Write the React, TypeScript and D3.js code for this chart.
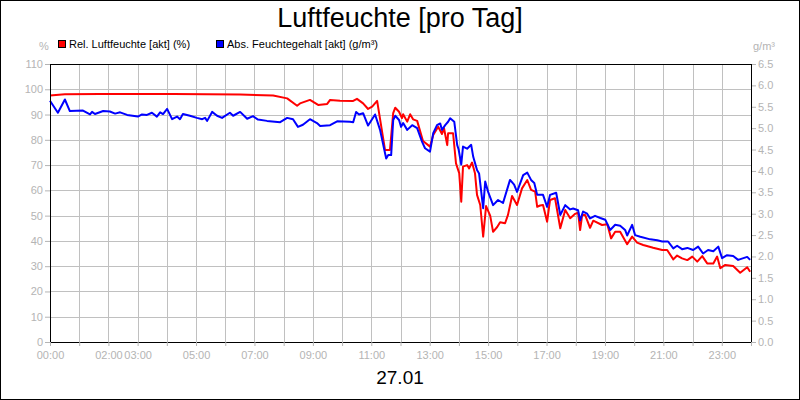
import * as d3 from "d3";
import React from "react";

// hours since midnight (27.01) and relative humidity in %
const redHours = [0, 0.51, 1.71, 4.21, 6.51, 7.64, 8.12, 8.46, 8.56, 8.9, 9.18, 9.49, 9.59, 9.93, 10.38, 10.51, 10.72, 10.89, 11.03, 11.2, 11.47, 11.64, 11.75, 11.82, 11.95, 12.05, 12.09, 12.23, 12.33, 12.43, 12.57, 12.77, 13.01, 13.12, 13.29, 13.42, 13.49, 13.6, 13.63,
    13.8, 13.9, 14.01, 14.08, 14.14, 14.28, 14.35, 14.45, 14.55, 14.62, 14.73, 14.83, 14.93, 15.07, 15.17, 15.31, 15.41, 15.58, 15.68, 15.82, 15.99, 16.16, 16.34, 16.47, 16.61, 16.68, 16.78, 16.88, 17.02, 17.12, 17.29, 17.47, 17.64, 17.81, 17.98, 18.08, 18.15,
    18.22, 18.32, 18.49, 18.6, 18.9, 19.08, 19.21, 19.35, 19.52, 19.76, 19.93, 20.1, 20.31, 20.65, 20.96, 21.13, 21.34, 21.47, 21.64, 21.82, 21.99, 22.16, 22.33, 22.5, 22.71, 22.84, 22.95, 23.12, 23.39, 23.63, 23.87, 23.97];
const redValues = [97.5, 98.0, 98.1, 98.1, 97.9, 97.5, 96.4, 93.5, 94.4, 95.8, 93.8, 94.2, 95.8, 95.5, 95.4, 96.2, 94.4, 92.2, 93.1, 95.4, 76, 76, 90.6, 92.7, 91.1, 88.6, 90.1, 87.2, 90.1, 88.1, 87.5, 79.5, 77.3, 81.9, 85.2, 82.3, 84.6, 77.9, 82.6,
    82.6, 70.7, 66.8, 55.5, 69.4, 70, 68.7, 71, 66.8, 58.2, 54.2, 41.7, 53.8, 50, 43.6, 45.5, 47.4, 47, 50.3, 57.8, 54.2, 60.8, 64.1, 60.2, 59.5, 53.5, 54, 54.2, 47.6, 56.2, 56.9, 45, 52.2, 49, 50.7, 51.2, 44.3,
    50.3, 50.3, 45.2, 48, 46.3, 46.6, 41, 43.6, 43.6, 38.7, 41.7, 39.3, 38.4, 37.3, 36.4, 36.4, 32.7, 34.2, 33.1, 32.4, 33.8, 31.8, 34, 31.1, 31.1, 33.8, 29.2, 30.5, 30.1, 27.4, 29.6, 27.8];

// hours and absolute humidity in g/m³
const blueHours = [0, 0.27, 0.51, 0.68, 1.13, 1.37, 1.44, 1.54, 1.82, 2.05, 2.23, 2.4, 2.64, 3.01, 3.15, 3.32, 3.49, 3.66, 3.77, 3.87, 4.01, 4.18, 4.35, 4.45, 4.55, 4.79, 5.03, 5.21, 5.31, 5.38, 5.55, 5.72, 5.89, 6.16, 6.27, 6.51, 6.75, 6.95, 7.12, 7.43, 7.88, 8.12, 8.32, 8.49, 8.66, 8.9, 9.14, 9.25, 9.59, 9.83, 10.27, 10.38, 10.48, 10.58, 10.72, 10.89, 11.13, 11.3, 11.51, 11.58, 11.68, 11.75, 11.82, 11.95, 12.02, 12.09, 12.23, 12.4, 12.57, 12.74, 12.84, 13.01, 13.12, 13.25, 13.36, 13.42, 13.53, 13.63, 13.7, 13.84,
    13.94, 13.99, 14.08, 14.14, 14.28, 14.42, 14.49, 14.62, 14.69, 14.83, 14.9, 15.0, 15.17, 15.34, 15.51, 15.75, 15.89, 15.99, 16.2, 16.34, 16.47, 16.58, 16.68, 16.78, 16.88, 17.02, 17.12, 17.33, 17.47, 17.64, 17.81,
    17.91, 18.08, 18.15, 18.25, 18.39, 18.49, 18.66, 18.84, 19.01, 19.18, 19.35, 19.52, 19.69, 19.76, 19.93, 20.03, 20.21, 20.55, 20.79, 20.96, 21.16, 21.34, 21.47, 21.64, 21.82, 22.02, 22.19, 22.36, 22.53, 22.71, 22.88, 23.01, 23.18, 23.39, 23.56, 23.87, 23.97];
const blueValues = [5.64, 5.36, 5.67, 5.40, 5.41, 5.32, 5.38, 5.33, 5.40, 5.39, 5.34, 5.37, 5.31, 5.27, 5.32, 5.31, 5.36, 5.27, 5.37, 5.33, 5.45, 5.21, 5.27, 5.21, 5.33, 5.29, 5.24, 5.21, 5.24, 5.17, 5.38, 5.29, 5.24, 5.36, 5.29, 5.38, 5.22, 5.28, 5.2, 5.17, 5.14, 5.24, 5.21, 5.03, 5.08, 5.21, 5.12, 5.05, 5.07, 5.16, 5.15, 5.14, 5.38, 5.32, 5.35, 5.06, 5.32, 4.96, 4.29, 4.37, 4.37, 5.19, 5.29, 5.19, 5.03, 5.12, 4.96, 5.07, 5.0, 4.68, 4.53, 4.45, 4.88, 5.07, 5.11, 4.96, 5.07, 5.15, 5.23, 5.15,
    4.61, 4.5, 4.15, 4.57, 4.52, 4.61, 4.33, 4.02, 3.94, 3.13, 3.75, 3.51, 3.2, 3.32, 3.25, 3.79, 3.68, 3.51, 3.9, 3.96, 3.79, 3.72, 3.44, 3.44, 3.44, 3.16, 3.44, 3.49, 2.97, 3.2, 3.1,
    3.12, 3.08, 2.84, 3.05, 3.0, 2.89, 2.95, 2.9, 2.86, 2.62, 2.74, 2.72, 2.62, 2.49, 2.74, 2.5, 2.46, 2.4, 2.38, 2.35, 2.35, 2.19, 2.25, 2.17, 2.2, 2.15, 2.23, 2.07, 2.15, 2.12, 2.23, 1.96, 2.03, 2.01, 1.92, 1.99, 1.92];

const xLabelHours = [0, 2, 3, 5, 7, 9, 11, 13, 15, 17, 19, 21, 23];
const leftTicks = [0, 10, 20, 30, 40, 50, 60, 70, 80, 90, 100, 110];
const rightTicks = [0, 0.5, 1, 1.5, 2, 2.5, 3, 3.5, 4, 4.5, 5, 5.5, 6, 6.5];

const title = "Luftfeuchte [pro Tag]";
const dateLabel = "27.01";
const redName = "Rel. Luftfeuchte [akt] (%)";
const blueName = "Abs. Feuchtegehalt [akt] (g/m³)";

const W = 800;
const H = 400;
const FONT = "'Liberation Sans', Arial, sans-serif";
const GREY = "#b4b4b4";

class App extends React.PureComponent<any, any> {
    svgRef: any;

    constructor(props: any) {
        super(props)
        this.svgRef = React.createRef()
    }

    componentDidMount() {
        this.createChart()
    }

    createChart() {
        const svg = d3.select(this.svgRef.current);
        svg.selectAll("*").remove();

        const left = 50, right = 751, top = 64, bottom = 342;
        const xScale = d3.scaleLinear().domain([0, 24]).range([left, right]);
        const yLeft = d3.scaleLinear().domain([0, 110]).range([bottom, top]);
        const yRight = d3.scaleLinear().domain([0, 6.5]).range([bottom, top]);

        svg.append("rect")
            .attr("x", 0.5).attr("y", 0.5)
            .attr("width", W - 1).attr("height", H - 1)
            .attr("fill", "#fff").attr("stroke", "#000");

        // grid
        const grid = svg.append("g").attr("stroke", "#c0c0c0").attr("stroke-width", 1);
        grid.selectAll(".vgrid").data(d3.range(1, 24)).enter().append("line")
            .attr("x1", (d: number) => Math.round(xScale(d)) + 0.5)
            .attr("x2", (d: number) => Math.round(xScale(d)) + 0.5)
            .attr("y1", top).attr("y2", bottom);
        grid.selectAll(".hgrid").data(leftTicks.slice(1, -1)).enter().append("line")
            .attr("y1", (d: number) => Math.round(yLeft(d)) + 0.5)
            .attr("y2", (d: number) => Math.round(yLeft(d)) + 0.5)
            .attr("x1", left).attr("x2", right);

        // axes
        const styleAxis = (g: any) => {
            g.select(".domain").remove();
            g.selectAll("line").attr("stroke", GREY);
            g.selectAll("text").attr("fill", GREY).style("font", `11px ${FONT}`);
        };
        svg.append("g")
            .attr("transform", `translate(${left},0)`)
            .call(d3.axisLeft(yLeft).tickValues(leftTicks).tickSize(5).tickPadding(2).tickFormat(d3.format("d")))
            .call(styleAxis);
        svg.append("g")
            .attr("transform", `translate(${right},0)`)
            .call(d3.axisRight(yRight).tickValues(rightTicks).tickSize(5).tickPadding(2).tickFormat(d3.format(".1f")))
            .call(styleAxis);
        const xAxisG = svg.append("g")
            .attr("transform", `translate(0,${bottom})`)
            .call(d3.axisBottom(xScale).tickValues(d3.range(0, 25)).tickSize(4).tickPadding(5)
                .tickFormat((d: any) => xLabelHours.indexOf(d) >= 0 ? (d < 10 ? "0" + d : "" + d) + ":00" : ""))
            .call(styleAxis);

        // series
        const line = d3.line<[number, number]>().x(d => xScale(d[0]));
        svg.append("path")
            .datum(redHours.map((h, i) => [h, redValues[i]] as [number, number]))
            .attr("fill", "none").attr("stroke", "#ff0000").attr("stroke-width", 2)
            .attr("stroke-linejoin", "round")
            .attr("d", line.y(d => yLeft(d[1])));
        svg.append("path")
            .datum(blueHours.map((h, i) => [h, blueValues[i]] as [number, number]))
            .attr("fill", "none").attr("stroke", "#0000ff").attr("stroke-width", 2)
            .attr("stroke-linejoin", "round")
            .attr("d", line.y(d => yRight(d[1])));

        // plot frame
        svg.append("rect")
            .attr("x", left + 0.5).attr("y", top + 0.5)
            .attr("width", right - left).attr("height", bottom - top)
            .attr("fill", "none").attr("stroke", "#000");

        this.drawLabel(svg, W / 2, 27, "middle", "27px", "#000", title);
        this.drawLabel(svg, W / 2, 384, "middle", "19px", "#000", dateLabel);
        this.drawLabel(svg, 44, 50, "middle", "11px", GREY, "%");
        this.drawLabel(svg, 753, 50, "start", "11px", GREY, "g/m³");

        // legend
        const legend = [[58, "#ff0000", redName], [216, "#0000ff", blueName]];
        legend.forEach(([x, c, name]: any) => {
            svg.append("rect").attr("x", x + 0.5).attr("y", 40.5).attr("width", 7).attr("height", 7)
                .attr("fill", c).attr("stroke", "#000");
            this.drawLabel(svg, x + 11, 48, "start", "11px", "#000", name);
        });
        xAxisG.raise();
    }

    drawLabel(container: any, x: number, y: number, anchor: string, size: string, color: string, value: string) {
        container.append("text")
            .attr("x", x)
            .attr("y", y)
            .attr("fill", color)
            .style("font", `${size} ${FONT}`)
            .style("text-anchor", anchor)
            .text(value);
    }

    render() {
        return (<svg ref={this.svgRef} width={W} height={H} style={{ position: "absolute", left: 0, top: 0 }}></svg>)
    }
}

export default App
